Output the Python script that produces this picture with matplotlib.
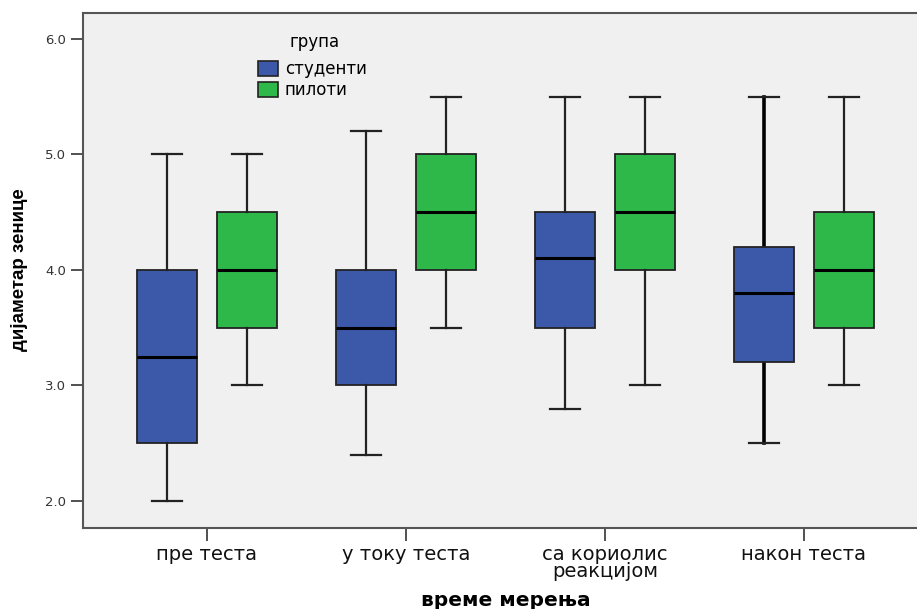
import numpy as np
import matplotlib
matplotlib.use("Agg")
import matplotlib.pyplot as plt
from matplotlib.patches import Patch

# data
categories = ["пре теста", "у току теста", "са кориолис\nреакцијом", "након теста"]
groups = ["студенти", "пилоти"]

stud_low = [2.0, 2.4, 2.8, 2.5]
stud_q1 = [2.5, 3.0, 3.5, 3.2]
stud_med = [3.25, 3.5, 4.1, 3.8]
stud_q3 = [4.0, 4.0, 4.5, 4.2]
stud_high = [5.0, 5.2, 5.5, 5.5]

pil_low = [3.0, 3.5, 3.0, 3.0]
pil_q1 = [3.5, 4.0, 4.0, 3.5]
pil_med = [4.0, 4.5, 4.5, 4.0]
pil_q3 = [4.5, 5.0, 5.0, 4.5]
pil_high = [5.0, 5.5, 5.5, 5.5]

blue = "#3c58a8"
green = "#2eb84a"
bg = "#f0f0f0"
edge = "#222222"

fig = plt.figure(figsize=(9.17, 6.09), dpi=100)
ax = fig.add_axes([83 / 917, 1 - 528 / 609, 1 - 83 / 917, (528 - 13) / 609])
ax.set_facecolor(bg)


def stats(low, q1, med, q3, high):
    out = []
    for i in range(len(low)):
        out.append({"whislo": low[i], "q1": q1[i], "med": med[i],
                    "q3": q3[i], "whishi": high[i], "fliers": []})
    return out


x = np.arange(len(categories))
sets = [(stats(stud_low, stud_q1, stud_med, stud_q3, stud_high), x - 0.2, blue),
        (stats(pil_low, pil_q1, pil_med, pil_q3, pil_high), x + 0.2, green)]

for st, pos, col in sets:
    bp = ax.bxp(st, positions=pos, widths=0.3, patch_artist=True,
                showfliers=False,
                boxprops=dict(facecolor=col, edgecolor=edge, linewidth=1.3),
                medianprops=dict(color="black", linewidth=2.2),
                whiskerprops=dict(color=edge, linewidth=1.6),
                capprops=dict(color=edge, linewidth=1.6),
                capwidths=0.15)

# the last blue box has heavier whiskers in the original
for line in ax.lines:
    xs = line.get_xdata()
    if len(xs) == 2 and xs[0] == xs[1] and np.isclose(xs[0], 2.8):
        line.set_linewidth(2.6)
        line.set_color("black")
        line.set_zorder(1.5)

ax.set_xlim(-0.623, 3.568)
ax.set_ylim(1.766, 6.225)
ax.set_yticks([2.0, 3.0, 4.0, 5.0, 6.0])
ax.set_yticklabels(["2.0", "3.0", "4.0", "5.0", "6.0"], fontsize=9.5,
                   family="DejaVu Sans", color="#333333")
ax.set_xticks(x)
ax.set_xticklabels(categories, fontsize=14, family="DejaVu Sans",
                   linespacing=0.9, color="#111111")
ax.tick_params(axis="both", direction="out", length=9, width=1.2,
               color="#333333", pad=3)

for s in ["top", "left", "bottom"]:
    ax.spines[s].set_color("#555555")
    ax.spines[s].set_linewidth(1.5)
ax.spines["right"].set_visible(False)

fig.text(506 / 917, 1 - 600 / 609, "време мерења", ha="center", va="center",
         fontsize=14.5, fontweight="bold", family="DejaVu Sans")
fig.text(20 / 917, 1 - 270 / 609, "дијаметар зенице", ha="center", va="center",
         rotation=90, fontsize=13.5, fontweight="bold",
         family=["Liberation Sans Narrow", "Liberation Sans"])

# legend: title drawn separately to get the wider gap of the original
handles = [Patch(facecolor=blue, edgecolor=edge, linewidth=1.2),
           Patch(facecolor=green, edgecolor=edge, linewidth=1.2)]
leg = ax.legend(handles, groups, loc="upper left",
                bbox_to_anchor=((258 - 83) / 834, 1 - (60 - 13) / 515),
                borderaxespad=0, frameon=False,
                prop={"family": "DejaVu Sans", "size": 12},
                handlelength=1.2, handleheight=1.0, handletextpad=0.4,
                labelspacing=0.2, borderpad=0)
fig.text(315 / 917, 1 - 42 / 609, "група", ha="center", va="center",
         fontsize=12, family="DejaVu Sans")

fig.savefig("out.png", dpi=100, facecolor="white")
